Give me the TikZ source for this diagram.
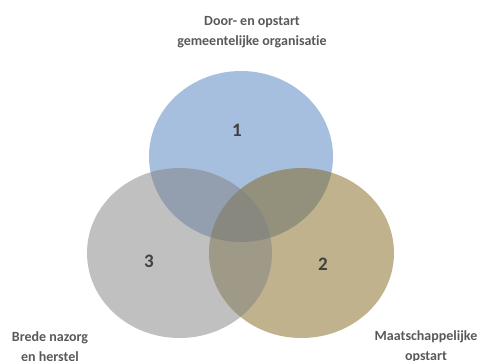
\documentclass[tikz,border=0pt]{standalone}
\usepackage{fontspec}
\setmainfont{Carlito}[Ligatures=NoCommon]
\definecolor{cblue}{RGB}{79,127,189}
\definecolor{cgray}{RGB}{129,129,129}
\definecolor{ctan}{RGB}{127,101,27}
\definecolor{ctext}{RGB}{89,89,89}
\definecolor{cnum}{RGB}{64,64,64}
\begin{document}
\begin{tikzpicture}[x=1pt,y=-1pt,
  setc/.style={fill opacity=0.5,draw=none},
  lbl/.style={text=ctext,font=\bfseries\fontsize{14}{20}\selectfont,align=center,inner sep=0pt},
  num/.style={text=cnum,font=\bfseries\fontsize{19}{19}\selectfont,inner sep=0pt}]
\useasboundingbox (0,0) rectangle (482,360);
\fill[cblue,setc] (241,156.5) ellipse [x radius=92,y radius=85.5];
\fill[ctan,setc] (301.5,253) ellipse [x radius=92.5,y radius=85];
\fill[cgray,setc] (179.5,253) ellipse [x radius=92.5,y radius=85];
\node[num] (n1) at (237,130) {1};
\node[num] (n2) at (323,264) {2};
\node[num] (n3) at (149,261) {3};
\node[lbl] (t1) at (252,32) {Door- en opstart\\gemeentelijke organisatie};
\node[lbl] (t3) at (50,347) {Brede nazorg\\en herstel};
\node[lbl] (t2) at (426,347) {Maatschappelijke\\opstart};
\end{tikzpicture}
\end{document}
